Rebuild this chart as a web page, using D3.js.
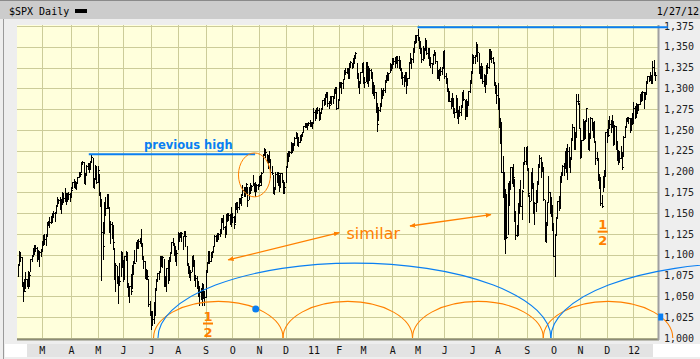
<!DOCTYPE html>
<html><head><meta charset="utf-8">
<script src="https://cdn.jsdelivr.net/npm/d3@7"></script>
<style>body{margin:0;background:#fff}svg{display:block}</style>
</head><body>
<svg id="c" width="700" height="359"></svg>
<script>
// trading days per month, Feb 2010 .. Jan 2012
const monthLengths = [19,23,21,20,22,21,22,21,21,21,22, 20,19,23,20,21,22,20,23,21,21,21,21, 18];
const monthLabels = ["", "M","A","M","J","J","A","S","O","N","D","11","F","M","A","M","J","J","A","S","O","N","D","12"];
const yTicks = [1000,1025,1050,1075,1100,1125,1150,1175,1200,1225,1250,1275,1300,1325,1350,1375];

const highs = [
1089,1105,1103,1097,1067,1071,1079,1071,1080,1078,1095,1100,1108,1112,1112,1109,1106,1104,1107,
1116,1124,1125,1125,1139,1141,1145,1147,1150,1153,1151,1160,1169,1167,1169,1167,1175,1174,1180,1174,1174,1176,1174,
1181,1188,1191,1189,1187,1194,1200,1200,1211,1213,1211,1198,1208,1210,1210,1213,1220,1216,1192,1208,1207,
1207,1197,1176,1167,1139,1164,1170,1173,1173,1157,1141,1140,1136,1108,1090,1086,1074,1090,1104,1103,
1094,1098,1105,1103,1066,1063,1077,1088,1092,1106,1115,1118,1119,1120,1131,1114,1099,1093,1083,1082,1071,1045,
1033,1033,1043,1060,1071,1078,1080,1099,1099,1099,1095,1074,1083,1094,1097,1103,1115,1120,1114,1111,1106,
1128,1126,1128,1127,1123,1129,1129,1111,1090,1086,1082,1099,1100,1094,1075,1075,1068,1062,1060,1066,1065,1056,
1082,1091,1105,1103,1103,1105,1110,1124,1124,1126,1126,1131,1144,1144,1148,1135,1148,1150,1150,1149,1158,
1150,1147,1162,1163,1163,1168,1168,1173,1184,1182,1181,1186,1181,1182,1186,1184,1196,1185,1187,1185,1185,
1195,1196,1199,1221,1228,1227,1221,1220,1225,1215,1207,1196,1182,1200,1200,1198,1196,1198,1198,1190,1188,
1207,1222,1225,1225,1236,1234,1234,1241,1247,1246,1242,1244,1245,1248,1255,1259,1259,1258,1260,1262,1260,1260,
1276,1274,1277,1278,1276,1271,1277,1286,1288,1293,1296,1296,1285,1291,1291,1291,1299,1302,1302,1287,
1308,1308,1308,1311,1322,1324,1325,1324,1330,1333,1331,1337,1340,1344,1331,1318,1309,1320,1330,
1332,1314,1332,1332,1327,1324,1323,1320,1308,1304,1296,1282,1278,1283,1300,1298,1300,1310,1316,1320,1319,1331,1329,
1337,1336,1338,1339,1339,1339,1334,1324,1320,1316,1320,1319,1313,1332,1342,1337,1349,1357,1364,1364,
1371,1362,1357,1348,1351,1348,1360,1358,1349,1349,1338,1330,1341,1346,1343,1333,1322,1323,1326,1326,1345,
1346,1318,1313,1300,1297,1288,1294,1289,1277,1292,1287,1274,1279,1280,1296,1298,1286,1287,1285,1297,1310,1321,
1341,1340,1340,1356,1353,1343,1327,1331,1327,1317,1316,1328,1331,1347,1347,1345,1338,1331,1308,1304,
1307,1289,1264,1260,1219,1199,1179,1172,1186,1189,1205,1205,1209,1191,1153,1136,1162,1179,1190,1178,1211,1230,1230,
1231,1204,1172,1199,1204,1186,1163,1178,1189,1209,1220,1218,1211,1205,1166,1140,1164,1195,1175,1170,1160,
1138,1125,1146,1165,1171,1195,1200,1208,1210,1225,1228,1233,1230,1218,1240,1257,1254,1247,1293,1293,1283,
1253,1238,1263,1260,1262,1277,1265,1246,1266,1264,1260,1261,1236,1224,1216,1197,1194,1172,1195,1202,1247,
1251,1262,1267,1262,1268,1260,1256,1255,1237,1226,1225,1231,1224,1243,1255,1265,1266,1266,1265,1264,1270,
1284,1279,1283,1281,1281,1293,1296,1297,1296,1296,1309,1315,1315,1320,1316,1333,1334,1320
];
const lows = [
1074,1088,1093,1063,1045,1056,1060,1062,1060,1063,1080,1092,1098,1101,1105,1092,1096,1086,1098,
1105,1112,1113,1112,1123,1136,1134,1138,1140,1146,1141,1150,1159,1162,1155,1150,1161,1163,1165,1161,1165,1167,1165,
1170,1180,1182,1180,1179,1188,1194,1195,1199,1209,1186,1185,1196,1203,1199,1203,1211,1181,1180,1191,1186,
1187,1172,1159,1070,1095,1126,1148,1156,1156,1127,1114,1120,1107,1071,1056,1066,1042,1064,1074,1085,
1069,1072,1094,1061,1050,1043,1053,1060,1077,1090,1092,1108,1108,1114,1111,1095,1084,1072,1071,1071,1039,1028,
1011,1016,1018,1028,1058,1068,1071,1079,1086,1085,1063,1063,1056,1066,1070,1092,1102,1112,1100,1093,1088,
1107,1116,1121,1117,1107,1122,1111,1088,1078,1073,1070,1080,1087,1070,1063,1060,1050,1040,1047,1040,1048,1040,
1049,1079,1091,1090,1092,1097,1103,1112,1117,1116,1119,1122,1126,1139,1131,1121,1125,1141,1142,1137,1135,
1140,1132,1140,1155,1151,1155,1162,1160,1172,1171,1171,1174,1159,1167,1174,1178,1184,1177,1171,1177,1179,
1184,1187,1184,1200,1220,1218,1211,1204,1211,1194,1197,1174,1173,1179,1188,1184,1177,1181,1188,1174,1174,
1187,1206,1213,1219,1222,1223,1226,1232,1240,1232,1231,1235,1238,1243,1248,1254,1254,1251,1256,1255,1255,1253,
1258,1262,1265,1270,1262,1263,1270,1275,1280,1281,1290,1279,1276,1282,1281,1282,1288,1294,1275,1276,
1286,1302,1295,1301,1311,1317,1318,1312,1313,1326,1324,1326,1331,1337,1312,1302,1294,1307,1320,
1306,1302,1309,1306,1303,1311,1312,1294,1292,1288,1272,1249,1262,1273,1280,1289,1292,1296,1308,1310,1310,1320,1322,
1325,1329,1326,1330,1326,1325,1322,1312,1305,1303,1309,1294,1304,1312,1331,1325,1332,1344,1354,1356,
1358,1349,1342,1332,1334,1337,1346,1341,1336,1328,1326,1318,1329,1340,1331,1312,1312,1310,1316,1317,1325,
1313,1306,1297,1285,1285,1277,1279,1270,1266,1272,1265,1258,1267,1268,1278,1286,1263,1267,1267,1281,1296,1307,
1318,1331,1330,1339,1333,1318,1313,1313,1306,1303,1296,1307,1319,1325,1335,1332,1330,1304,1295,1283,
1275,1254,1234,1200,1169,1119,1102,1120,1125,1160,1180,1186,1183,1141,1119,1122,1124,1150,1160,1143,1180,1209,1209,
1202,1171,1140,1166,1180,1150,1137,1153,1164,1185,1205,1193,1201,1166,1116,1115,1136,1163,1150,1147,1130,
1098,1075,1124,1145,1154,1158,1187,1196,1196,1206,1199,1191,1206,1199,1215,1239,1227,1227,1243,1281,1253,
1216,1219,1238,1239,1240,1262,1227,1226,1240,1250,1241,1236,1209,1214,1190,1180,1160,1158,1177,1182,1196,
1235,1243,1253,1247,1254,1232,1233,1227,1214,1209,1212,1216,1203,1219,1242,1254,1261,1258,1248,1250,1257,
1258,1265,1266,1271,1274,1281,1285,1286,1277,1287,1293,1307,1309,1310,1306,1306,1316,1310
];
const closes = [
1089,1103,1097,1063,1066,1057,1071,1068,1079,1076,1095,1100,1107,1109,1108,1095,1105,1103,1105,
1116,1118,1119,1123,1139,1139,1140,1146,1150,1150,1151,1160,1166,1166,1160,1166,1174,1168,1166,1167,1173,1173,1169,
1178,1187,1189,1182,1186,1194,1197,1197,1211,1212,1192,1198,1207,1206,1209,1212,1217,1184,1191,1207,1187,
1202,1174,1166,1128,1111,1160,1156,1172,1157,1136,1137,1121,1115,1072,1088,1074,1067,1069,1103,1089,
1071,1098,1103,1065,1051,1062,1056,1087,1092,1090,1115,1115,1116,1118,1113,1095,1092,1074,1077,1075,1041,1031,
1027,1023,1028,1060,1070,1078,1079,1095,1095,1097,1065,1071,1084,1070,1094,1103,1115,1114,1106,1102,1102,
1126,1121,1127,1126,1122,1128,1122,1090,1084,1079,1079,1093,1094,1076,1072,1067,1052,1055,1047,1065,1049,1049,
1080,1090,1105,1092,1099,1104,1110,1122,1121,1125,1125,1126,1143,1140,1134,1125,1149,1142,1148,1145,1141,
1146,1137,1161,1160,1158,1165,1165,1170,1178,1174,1176,1185,1166,1178,1180,1183,1186,1183,1182,1184,1183,
1184,1194,1198,1221,1226,1223,1213,1219,1214,1199,1198,1178,1179,1197,1200,1198,1181,1198,1189,1188,1181,
1206,1222,1225,1223,1224,1228,1233,1240,1241,1242,1235,1243,1244,1247,1255,1259,1257,1258,1259,1260,1258,1258,
1272,1270,1277,1274,1272,1270,1275,1286,1284,1293,1295,1282,1280,1283,1291,1291,1297,1300,1276,1286,
1308,1304,1307,1311,1319,1320,1325,1322,1329,1332,1328,1336,1340,1343,1315,1307,1306,1320,1327,
1306,1308,1331,1321,1310,1322,1320,1295,1304,1296,1282,1257,1274,1279,1298,1294,1298,1310,1314,1310,1319,1328,1326,
1332,1333,1333,1336,1334,1328,1325,1314,1314,1315,1320,1305,1313,1330,1337,1335,1347,1356,1361,1364,
1361,1357,1347,1335,1340,1346,1357,1342,1349,1338,1330,1329,1341,1344,1333,1317,1316,1318,1321,1326,1345,
1315,1313,1300,1286,1285,1280,1289,1271,1272,1288,1265,1268,1272,1278,1296,1287,1284,1269,1280,1297,1307,1321,
1340,1338,1339,1353,1344,1320,1314,1318,1309,1316,1305,1327,1326,1344,1345,1337,1332,1305,1301,1292,
1287,1254,1260,1200,1199,1120,1173,1121,1173,1179,1205,1193,1194,1141,1124,1124,1162,1178,1159,1177,1210,1213,1219,
1204,1174,1165,1199,1186,1154,1162,1173,1189,1209,1216,1204,1202,1167,1130,1136,1163,1175,1151,1160,1131,
1099,1124,1144,1165,1156,1195,1196,1207,1204,1225,1201,1225,1210,1215,1238,1254,1229,1242,1285,1285,1253,
1218,1238,1261,1253,1261,1276,1229,1240,1264,1252,1258,1237,1216,1216,1193,1188,1162,1159,1193,1195,1247,
1245,1244,1257,1259,1261,1234,1255,1236,1226,1212,1216,1220,1205,1241,1254,1265,1265,1265,1250,1263,1258,
1277,1277,1281,1278,1281,1292,1293,1296,1289,1294,1308,1315,1315,1316,1315,1326,1318,1316
];

// annotations, in data terms (trading-day index, price)
const previousHigh = [56, 187, 1221];          // from, to, price
const allTimeHighLine = [315, 512, 1373.5];     // from, to, price
const orangeCycleBounds = [107, 209, 311, 414, 516];
const orangeCycleHeight = 44;
const blueCycleBounds = [110.5, 420, 729.5];
const blueCycleHeight = 90;
const similarArrows = [[165.8, 1093.8, 253.3, 1126.6], [309, 1134.6, 372.8, 1148.4]];
const circleNote = [186.5, 1196, 12.6, 26.4];   // cx, cy, rx(days), ry(points)
const halfLabels = [[149.9, 1017.4], [460.8, 1127.8]];
const blueDots = [[187.5, 1035]];
const blueHandle = [506.5, 1025.2];

const svg = d3.select("#c");
const W = 700, H = 359;
const plot = {l: 17, t: 25, r: 658, b: 339};
const n = closes.length;
const x = d3.scaleLinear().domain([0, 502]).range([17.7, 655]);
const y = d3.scaleLinear().domain([1000, 1375]).range([338, 26]);
const BLUE = "#0a7ff2", ORANGE = "#ff8000";
const mono = "'DejaVu Sans Mono', monospace";

// frame
svg.append("rect").attr("width", W).attr("height", H).attr("fill", "#eeeeee");
svg.append("rect").attr("x", 0).attr("y", 0).attr("width", W).attr("height", 19).attr("fill", "#cccccc");
svg.append("line").attr("x1", 0).attr("x2", W).attr("y1", 0.5).attr("y2", 0.5).attr("stroke", "#8a8a8a");
svg.append("line").attr("x1", 3.5).attr("x2", 3.5).attr("y1", 19).attr("y2", H).attr("stroke", "#9a9a9a");
svg.append("rect").attr("x", 5).attr("y", 344).attr("width", 695).attr("height", 13).attr("fill", "#ffffff");
svg.append("rect").attr("x", 27).attr("y", 344).attr("width", 626).attr("height", 13).attr("fill", "#e3e3e3");

// title
svg.append("text").attr("x", 9).attr("y", 14.5).attr("font-family", mono).attr("font-size", 10)
  .attr("fill", "#000").text("$SPX Daily");
svg.append("rect").attr("x", 75).attr("y", 9).attr("width", 12).attr("height", 4).attr("fill", "#000");
svg.append("text").attr("x", 699).attr("y", 14.5).attr("text-anchor", "end").attr("font-family", mono)
  .attr("font-size", 10).attr("fill", "#000").text("1/27/12");

// plot background
svg.append("rect").attr("x", plot.l).attr("y", plot.t).attr("width", plot.r - plot.l)
  .attr("height", plot.b - plot.t).attr("fill", "#ffffdc");

// month starts
const starts = [];
let acc = 0;
monthLengths.forEach(m => { starts.push(acc); acc += m; });

const grid = svg.append("g").attr("stroke", "#cccc99").attr("stroke-width", 1).attr("shape-rendering", "crispEdges");
grid.selectAll("line.h").data(yTicks).join("line").attr("class", "h")
  .attr("x1", plot.l).attr("x2", plot.r).attr("y1", d => Math.round(y(d)) + 0.5).attr("y2", d => Math.round(y(d)) + 0.5);
grid.selectAll("line.v").data(starts.slice(1)).join("line").attr("class", "v")
  .attr("y1", plot.t).attr("y2", plot.b).attr("x1", d => Math.round(x(d)) + 0.5).attr("x2", d => Math.round(x(d)) + 0.5);

// axes frame
svg.append("line").attr("x1", plot.l).attr("x2", plot.r + 1).attr("y1", 339.5).attr("y2", 339.5)
  .attr("stroke", "#8c8c78").attr("stroke-width", 2);
svg.append("line").attr("x1", 658.5).attr("x2", 658.5).attr("y1", plot.t).attr("y2", 340)
  .attr("stroke", "#a0a0a0").attr("stroke-width", 2);

// y labels
svg.append("g").selectAll("text").data(yTicks).join("text")
  .attr("x", 664).attr("y", d => y(d) + 3.5).attr("font-family", mono).attr("font-size", 10)
  .attr("fill", "#222").text(d => d3.format(",")(d));

// x labels
svg.append("g").selectAll("text").data(starts.map((s, i) => [s, monthLabels[i]]).filter(d => d[1]))
  .join("text").attr("x", d => x(d[0]) + 0.5).attr("y", 353.5).attr("text-anchor", "middle")
  .attr("font-family", mono).attr("font-size", 10).attr("fill", "#111").text(d => d[1]);

// price bars
const bars = svg.append("g").attr("stroke", "#000").attr("stroke-width", 1).attr("shape-rendering", "crispEdges");
const idx = d3.range(n);
bars.selectAll("line.hl").data(idx).join("line").attr("class", "hl")
  .attr("x1", i => Math.round(x(i)) + 0.5).attr("x2", i => Math.round(x(i)) + 0.5)
  .attr("y1", i => Math.round(y(highs[i]))).attr("y2", i => Math.round(y(lows[i])) + 1);
bars.selectAll("line.c").data(idx).join("line").attr("class", "c")
  .attr("x1", i => Math.round(x(i))).attr("x2", i => Math.round(x(i)) + 2)
  .attr("y1", i => Math.round(y(closes[i])) + 0.5).attr("y2", i => Math.round(y(closes[i])) + 0.5);

// previous high
svg.append("line").attr("x1", x(previousHigh[0])).attr("x2", x(previousHigh[1]))
  .attr("y1", y(previousHigh[2])).attr("y2", y(previousHigh[2])).attr("stroke", BLUE).attr("stroke-width", 2);
svg.append("text").attr("x", 144).attr("y", 149).attr("font-family", "'DejaVu Sans', sans-serif")
  .attr("font-weight", "bold").attr("font-size", 11.5).attr("fill", BLUE).text("previous high");

// all-time high line
svg.append("line").attr("x1", x(allTimeHighLine[0])).attr("x2", x(allTimeHighLine[1]))
  .attr("y1", y(allTimeHighLine[2])).attr("y2", y(allTimeHighLine[2])).attr("stroke", BLUE).attr("stroke-width", 2);

// cycles
const base = y(1000);
function arcs(bounds, h, color) {
  const g = svg.append("g").attr("fill", "none").attr("stroke", color).attr("stroke-width", 1.1);
  for (let i = 0; i + 1 < bounds.length; i++) {
    const x1 = x(bounds[i]), x2 = x(bounds[i + 1]);
    const rx = (x2 - x1) / 2, ry = base - y(1000 + h);
    g.append("path").attr("d", `M${x1},${base} A${rx},${ry} 0 0 1 ${x2},${base}`);
  }
}
arcs(orangeCycleBounds, orangeCycleHeight, ORANGE);
arcs(blueCycleBounds, blueCycleHeight, BLUE);

// circle note
svg.append("ellipse").attr("cx", x(circleNote[0])).attr("cy", y(circleNote[1]))
  .attr("rx", x(circleNote[2]) - x(0)).attr("ry", y(1000) - y(1000 + circleNote[3]))
  .attr("fill", "none").attr("stroke", ORANGE).attr("stroke-width", 1);

// arrows
const defs = svg.append("defs");
defs.append("marker").attr("id", "ah").attr("viewBox", "0 0 10 10").attr("refX", 9).attr("refY", 5)
  .attr("markerWidth", 6).attr("markerHeight", 6).attr("orient", "auto-start-reverse")
  .attr("markerUnits", "userSpaceOnUse")
  .append("path").attr("d", "M0,1 L10,5 L0,9 Z").attr("fill", ORANGE);
svg.append("g").selectAll("line").data(similarArrows).join("line")
  .attr("x1", d => x(d[0])).attr("y1", d => y(d[1])).attr("x2", d => x(d[2])).attr("y2", d => y(d[3]))
  .attr("stroke", ORANGE).attr("stroke-width", 1.3)
  .attr("marker-start", "url(#ah)").attr("marker-end", "url(#ah)");
svg.append("text").attr("x", 346.5).attr("y", 238.5).attr("font-family", "'DejaVu Sans', sans-serif")
  .attr("font-size", 16).attr("fill", ORANGE).text("similar");

// 1/2 labels
halfLabels.forEach(d => {
  const cx = x(d[0]), cy = y(d[1]);
  const g = svg.append("g").attr("fill", ORANGE).attr("font-family", "'DejaVu Sans', sans-serif")
    .attr("font-weight", "bold").attr("font-size", 13).attr("text-anchor", "middle");
  g.append("text").attr("x", cx).attr("y", cy - 3).text("1");
  g.append("rect").attr("x", cx - 5).attr("y", cy - 1).attr("width", 10).attr("height", 2);
  g.append("text").attr("x", cx).attr("y", cy + 13).text("2");
});

// blue handles
svg.append("g").selectAll("circle").data(blueDots).join("circle")
  .attr("cx", d => x(d[0])).attr("cy", d => y(d[1])).attr("r", 3.5).attr("fill", BLUE);
svg.append("rect").attr("x", x(blueHandle[0]) - 2.5).attr("y", y(blueHandle[1]) - 3.5)
  .attr("width", 5).attr("height", 7).attr("fill", BLUE);
</script>
</body></html>
